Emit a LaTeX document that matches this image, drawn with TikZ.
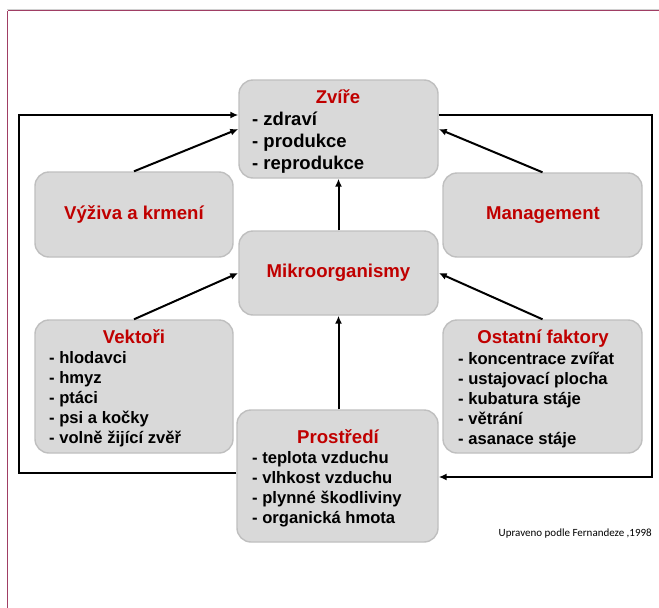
\documentclass[tikz,border=0pt]{standalone}
\usepackage{fontspec}
\setmainfont{Liberation Sans}
\newfontfamily\notefont{Carlito}
\usetikzlibrary{arrows.meta,calc}
\definecolor{boxfill}{HTML}{D9D9D9}
\definecolor{boxline}{HTML}{BFBFBF}
\definecolor{titlered}{HTML}{C00000}
\definecolor{framepink}{RGB}{160,62,100}
\definecolor{framegray}{HTML}{D0D0D0}
\tikzset{
  box/.style={rectangle, rounded corners=14pt, fill=boxfill, draw=boxline, line width=1.4pt, inner sep=0pt},
  ttl/.style={font=\fontsize{18.6}{22}\selectfont\bfseries, text=titlered, inner sep=0pt},
  bigttl/.style={font=\fontsize{18.5}{22}\selectfont\bfseries, text=titlered, inner sep=0pt, anchor=base},
  body/.style={font=\fontsize{16.6}{20}\selectfont\bfseries, align=left, inner sep=0pt, anchor=base west},
  conn/.style={line width=2pt, -{Latex[length=8pt,width=7pt]}},
  loopline/.style={line width=2pt},
}
\begin{document}
\begin{tikzpicture}[x=1pt,y=-1pt]
\useasboundingbox (0,0) rectangle (659,608);
% slide frame
\draw[framegray, line width=1pt] (7,9) -- (659,9);
\draw[framepink, line width=1.3pt] (7.5,10.8) -- (659,10.8);
\draw[framepink, line width=1.3pt] (7.5,10.8) -- (7.5,608);

% boxes
\node[box, minimum width=199pt, minimum height=98pt] (zv) at (338.5,129) {};
\node[box, minimum width=198pt, minimum height=85pt] (vy) at (134,214.5) {};
\node[box, minimum width=199pt, minimum height=84pt] (ma) at (542.5,215) {};
\node[box, minimum width=199pt, minimum height=84pt] (mi) at (338.5,273) {};
\node[box, minimum width=198pt, minimum height=133pt] (ve) at (134,386.5) {};
\node[box, minimum width=199pt, minimum height=133pt] (os) at (542.5,386.5) {};
\node[box, minimum width=201pt, minimum height=132pt] (pr) at (337.5,476) {};

% texts (body nodes anchored at the baseline of their last line)
\node[bigttl] (zvt) at (338,103) {Zvíře};
\node[body, font=\fontsize{18.5}{22}\selectfont\bfseries] (zvb) at (252,169) {- zdraví\\- produkce\\- reprodukce};
\node[ttl] (vyt) at (134,214.5) {Výživa a krmení};
\node[ttl] (mat) at (543,215) {Management};
\node[ttl] (mit) at (338.5,273) {Mikroorganismy};
\node[ttl, anchor=base] (vet) at (134,343) {Vektoři};
\node[body] (veb) at (49,443.5) {- hlodavci\\- hmyz\\- ptáci\\- psi a kočky\\- volně žijící zvěř};
\node[ttl, anchor=base] (ost) at (543,343) {Ostatní faktory};
\node[body] (osb) at (458,444) {- koncentrace zvířat\\- ustajovací plocha\\- kubatura stáje\\- větrání\\- asanace stáje};
\node[ttl, anchor=base] (prt) at (338,443) {Prostředí};
\node[body] (prb) at (252,523) {- teplota vzduchu\\- vlhkost vzduchu\\- plynné škodliviny\\- organická hmota};

\node[font=\notefont\fontsize{11}{13}\selectfont, anchor=base east, inner sep=0pt] (note) at (652,536) {Upraveno podle Fernandeze ,1998};

% connectors
\draw[conn] (vy.north) -- (zv.west);
\draw[conn] (ma.north) -- (zv.east);
\draw[conn] (ve.north) -- (mi.west);
\draw[conn] (os.north) -- (mi.east);
\draw[conn] (mi.north) -- (zv.south);
\draw[conn] (pr.north -| mi.south) -- (mi.south);

% feedback loops
\coordinate (l1) at (19,473);
\coordinate (l2) at (19,115);
\coordinate (r1) at (652,115);
\coordinate (r2) at (652,477);
\draw[loopline, -{Latex[length=8pt,width=7pt]}] (l1 -| pr.west) -- (l1) -- (l2) -- (l2 -| zv.west);
\draw[loopline, -{Latex[length=8pt,width=7pt]}] (r1 -| zv.east) -- (r1) -- (r2) -- (r2 -| pr.east);
\end{tikzpicture}
\end{document}
